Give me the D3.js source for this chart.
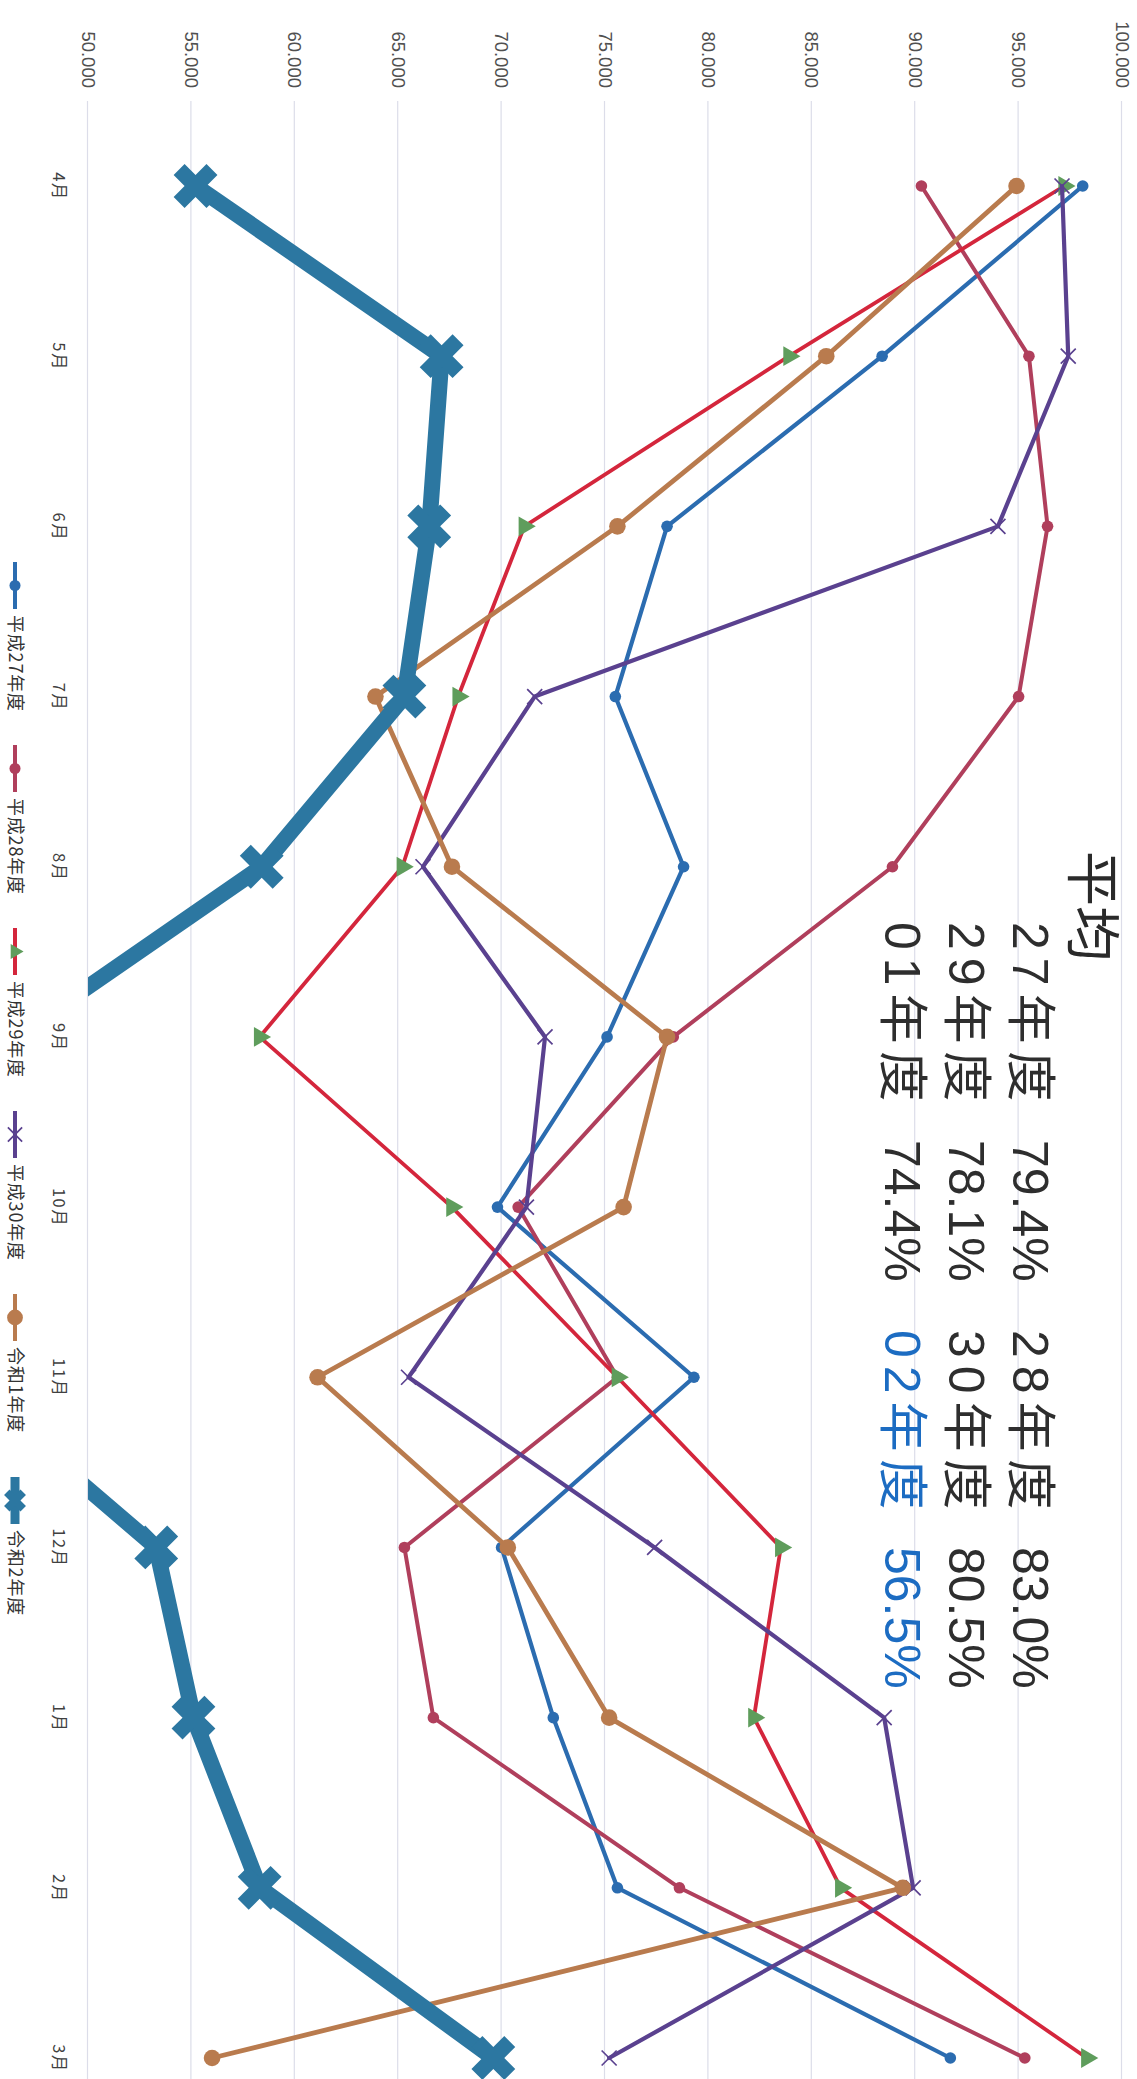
<!DOCTYPE html>
<html>
<head>
<meta charset="utf-8">
<script src="https://cdn.jsdelivr.net/npm/d3@7"></script>
<style>
  html, body { margin: 0; padding: 0; background: #ffffff; }
  svg { display: block; }
</style>
</head>
<body>
<div id="chart"></div>
<script>
// Months of the fiscal year (April to March)
const months = ["4月", "5月", "6月", "7月", "8月", "9月", "10月", "11月", "12月", "1月", "2月", "3月"];
// Value axis ticks
const valueTicks = [50, 55, 60, 65, 70, 75, 80, 85, 90, 95, 100];

// Monthly rates per fiscal year
const h27 = [98.1, 88.4, 78.0, 75.5, 78.8, 75.1, 69.8, 79.3, 70.0, 72.5, 75.6, 91.7];
const h28 = [90.3, 95.5, 96.4, 95.0, 88.9, 78.3, 70.8, 75.6, 65.3, 66.7, 78.6, 95.3];
const h29 = [97.2, 83.9, 71.1, 67.9, 65.2, 58.3, 67.6, 75.6, 83.5, 82.2, 86.4, 98.3];
const h30 = [97.1, 97.4, 94.0, 71.6, 66.2, 72.1, 71.2, 65.5, 77.4, 88.5, 89.9, 75.2];
const r01 = [94.9, 85.7, 75.6, 63.9, 67.6, 78.0, 75.9, 61.1, 70.3, 75.2, 89.4, 56.0];
const r02 = [55.2, 67.1, 66.5, 65.3, 58.4, 46.5, 39.0, 43.7, 53.3, 55.1, 58.3, 69.6];

const seriesNames = ["平成27年度", "平成28年度", "平成29年度", "平成30年度", "令和1年度", "令和2年度"];

// Yearly averages shown in the annotation block
const avgLabels = ["27年度", "28年度", "29年度", "30年度", "01年度", "02年度"];
const avgValues = [79.4, 83.0, 78.1, 80.5, 74.4, 56.5];

const seriesData = [h27, h28, h29, h30, r01, r02];
const styles = [
  { line: "#2b6cb0", mark: "#2b6cb0", width: 4.2, shape: "circle", size: 5.8 },
  { line: "#b03f5c", mark: "#b03f5c", width: 4.0, shape: "circle", size: 5.8 },
  { line: "#d4263c", mark: "#5f9d5c", width: 3.8, shape: "triangle", size: 170 },
  { line: "#5a418f", mark: "#5a418f", width: 4.2, shape: "x", size: 7.5 },
  { line: "#b97b4e", mark: "#b97b4e", width: 4.8, shape: "circle", size: 8.3 },
  { line: "#2c77a1", mark: "#2c77a1", width: 16, shape: "bigx", size: 1200 }
];

const W = 1137, H = 2079;
const svg = d3.select("#chart").append("svg")
  .attr("width", W).attr("height", H)
  .attr("font-family", "'Liberation Sans', 'Noto Sans CJK JP', sans-serif");

// The chart is laid out in landscape and turned a quarter turn clockwise
const g = svg.append("g").attr("transform", `translate(${W},0) rotate(90)`);

const plotLeft = 101, plotRight = 2143, plotTop = 0, plotBottom = 1049;

const x = d3.scalePoint().domain(months).range([186, 2058]);
const y = d3.scaleLinear().domain([50, 100]).range([plotBottom, 15]);

// Value axis with gridlines
const yAxis = g.append("g")
  .attr("transform", `translate(${plotLeft},0)`)
  .call(d3.axisLeft(y).tickValues(valueTicks).tickSize(-(plotRight - plotLeft))
    .tickPadding(13).tickFormat(d3.format(".3f")));
yAxis.select(".domain").remove();
yAxis.selectAll(".tick line").attr("stroke", "#dcdde9").attr("stroke-width", 1.2);
yAxis.selectAll(".tick text").attr("fill", "#505050").attr("font-size", 18.5)
  .attr("font-family", "'Liberation Sans', Arial, sans-serif");

// Month axis
const xAxis = g.append("g")
  .attr("transform", `translate(0,1069)`)
  .call(d3.axisBottom(x).tickSize(0).tickPadding(3));
xAxis.select(".domain").remove();
xAxis.selectAll(".tick text").attr("fill", "#404040").attr("font-size", 16.5)
  .attr("letter-spacing", 1.5)
  .attr("font-family", "'Noto Sans CJK JP', sans-serif");

// Clip the plot so values under the axis minimum are cut at the edge
svg.append("defs").append("clipPath").attr("id", "plotClip")
  .append("rect").attr("x", plotLeft).attr("y", plotTop)
  .attr("width", plotRight - plotLeft).attr("height", plotBottom - plotTop);

const plot = g.append("g").attr("clip-path", "url(#plotClip)");

const line = d3.line().x((d, i) => x(months[i])).y(d => y(d));

function drawMarker(sel, st, scale) {
  const k = scale || 1;
  if (st.shape === "circle") {
    sel.append("circle").attr("r", st.size * k).attr("fill", st.mark);
  } else if (st.shape === "triangle") {
    sel.append("path").attr("d", d3.symbol(d3.symbolTriangle, st.size * k * k)())
      .attr("fill", st.mark);
  } else if (st.shape === "x") {
    const s = st.size * k;
    sel.append("path").attr("d", `M${-s},${-s}L${s},${s}M${-s},${s}L${s},${-s}`)
      .attr("stroke", st.mark).attr("stroke-width", 1.7).attr("fill", "none");
  } else if (st.shape === "bigx") {
    sel.append("path").attr("d", d3.symbol(d3.symbolCross, st.size * k * k)())
      .attr("transform", "rotate(45)").attr("fill", st.mark);
  }
}

seriesData.forEach((vals, si) => {
  const st = styles[si];
  const sg = plot.append("g").attr("class", "series");
  sg.append("path").datum(vals)
    .attr("d", line)
    .attr("fill", "none")
    .attr("stroke", st.line)
    .attr("stroke-width", st.width)
    .attr("stroke-linejoin", "round")
    .attr("stroke-linecap", "round");
  sg.selectAll("g.pt").data(vals).enter().append("g")
    .attr("class", "pt")
    .attr("transform", (d, i) => `translate(${x(months[i])},${y(d)})`)
    .each(function () { drawMarker(d3.select(this), st); });
});

// Average annotation block
const ann = g.append("g");
ann.append("text").attr("x", 851).attr("y", 64)
  .attr("font-size", 55).attr("fill", "#2a2a2a")
  .attr("font-family", "'Noto Sans CJK JP', sans-serif")
  .text("平均");

const colYear = [922, 1330], colVal = [1140, 1547];
const rowBase = [124, 188, 252];
avgLabels.forEach((lab, i) => {
  const r = Math.floor(i / 2), c = i % 2;
  const col = i === 5 ? "#1c6cc2" : "#2e2e2e";
  ann.append("text").attr("x", colYear[c]).attr("y", rowBase[r])
    .attr("font-size", 50).attr("letter-spacing", 8).attr("fill", col)
    .text(lab);
  ann.append("text").attr("x", colVal[c]).attr("y", rowBase[r])
    .attr("font-size", 50).attr("fill", col)
    .text(d3.format(".1f")(avgValues[i]) + "%");
});

// Legend along the bottom edge
const legend = g.append("g").attr("transform", "translate(0,1122)");
seriesNames.forEach((name, i) => {
  const st = styles[i];
  const lx = 562 + i * 183;
  const item = legend.append("g").attr("transform", `translate(${lx},0)`);
  item.append("line").attr("x1", 0).attr("x2", 47).attr("y1", 0).attr("y2", 0)
    .attr("stroke", st.line).attr("stroke-width", i === 5 ? 9 : 4);
  const m = item.append("g").attr("transform", "translate(23.5,0)");
  drawMarker(m, st, st.shape === "bigx" ? 0.5 : (st.shape === "triangle" ? 0.75 : 0.95));
  item.append("text").attr("x", 53).attr("y", 0).attr("dy", "0.35em")
    .attr("font-size", 18).attr("letter-spacing", 0.8).attr("fill", "#333")
    .attr("font-family", "'Noto Sans CJK JP', sans-serif")
    .text(name);
});
</script>
</body>
</html>
